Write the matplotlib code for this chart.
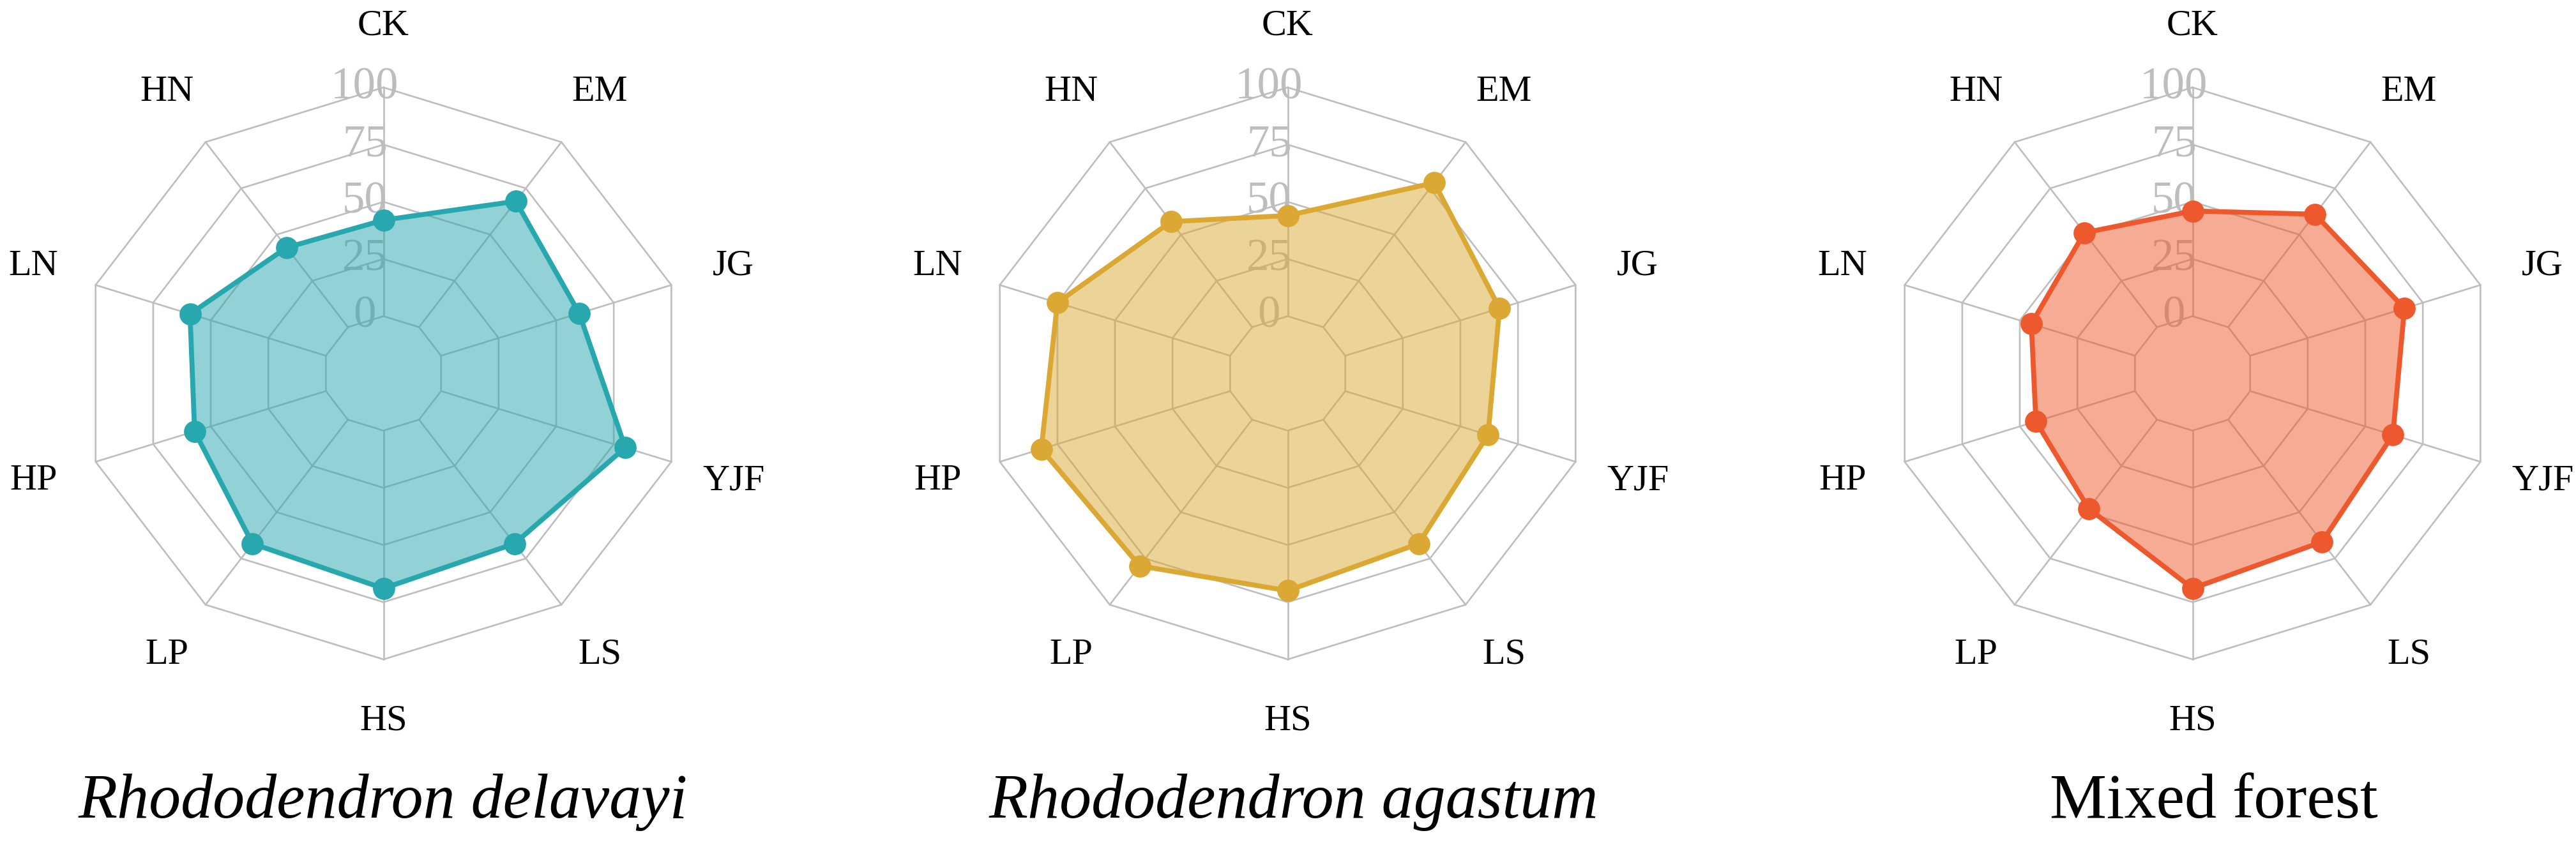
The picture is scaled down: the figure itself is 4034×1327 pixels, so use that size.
import numpy as np
import matplotlib
matplotlib.use('Agg')
import matplotlib.pyplot as plt

# ---- data ----
categories = ['CK', 'EM', 'JG', 'YJF', 'LS', 'HS', 'LP', 'HP', 'LN', 'HN']
delavayi = [42, 68, 60, 80, 67, 69, 67, 57, 59, 43]
agastum = [44, 78, 67, 62, 67, 70, 79, 82, 75, 57]
mixed = [46, 61, 67, 62, 66, 69, 48, 43, 45, 51]
titles = ['Rhododendron delavayi', 'Rhododendron agastum', 'Mixed forest']
title_italic = [True, True, False]
colors = ['#27A7AE', '#DBA833', '#EE582D']
ticks = [0, 25, 50, 75, 100]
series = [delavayi, agastum, mixed]

W, H = 4034, 1327
fig = plt.figure(figsize=(W / 100, H / 100), dpi=100)
fig.patch.set_facecolor('white')

centers_x = [600.5, 2016.5, 3433.5]
title_x = [600, 2026, 3467]
cy = 585
Rh, Rv = 474, 448
serif = 'Liberation Serif'
grid_c = '#BEBEBE'

n = len(categories)
angles = np.linspace(0, 2 * np.pi, n, endpoint=False)
ang_c = np.append(angles, angles[0])

for k, vals in enumerate(series):
    cx = centers_x[k]
    ax = fig.add_axes([(cx - Rh) / W, (H - cy - Rv) / H, 2 * Rh / W, 2 * Rv / H],
                      projection='polar')
    ax.set_theta_zero_location('N')
    ax.set_theta_direction(-1)
    ax.set_ylim(-25, 100)
    ax.set_aspect('auto')
    ax.grid(False)
    ax.set_xticks([])
    ax.set_yticks([])
    ax.spines['polar'].set_visible(False)
    ax.patch.set_alpha(0)

    for t in ticks:
        ax.plot(ang_c, [t] * (n + 1), color=grid_c, lw=1.9, zorder=1, clip_on=False)
    for a in angles:
        ax.plot([a, a], [0, 100], color=grid_c, lw=1.9, zorder=1, clip_on=False)
    for t in ticks:
        ax.annotate(str(t), xy=(0, t), xytext=(-21, 0), textcoords='offset points',
                    ha='center', va='center', fontsize=51, color='#BDBDBD',
                    family=serif, zorder=2, annotation_clip=False)

    v = np.append(vals, vals[0])
    ax.fill(ang_c, v, color=colors[k], alpha=0.5, lw=0, zorder=3, clip_on=False)
    ax.plot(ang_c, v, color=colors[k], lw=5.6, zorder=4, clip_on=False,
            solid_joinstyle='round')
    ax.plot(angles, vals, 'o', ms=24, color=colors[k], zorder=5, clip_on=False)

    for a, lab in zip(angles, categories):
        ax.text(a, 127, lab, ha='center', va='center', fontsize=42,
                family=serif, color='black', clip_on=False)

    fig.text(title_x[k] / W, 1 - 1281 / H, titles[k], ha='center', va='baseline',
             fontsize=72, family=serif,
             style='italic' if title_italic[k] else 'normal', color='black')

fig.savefig('out.png', dpi=100, facecolor='white')
